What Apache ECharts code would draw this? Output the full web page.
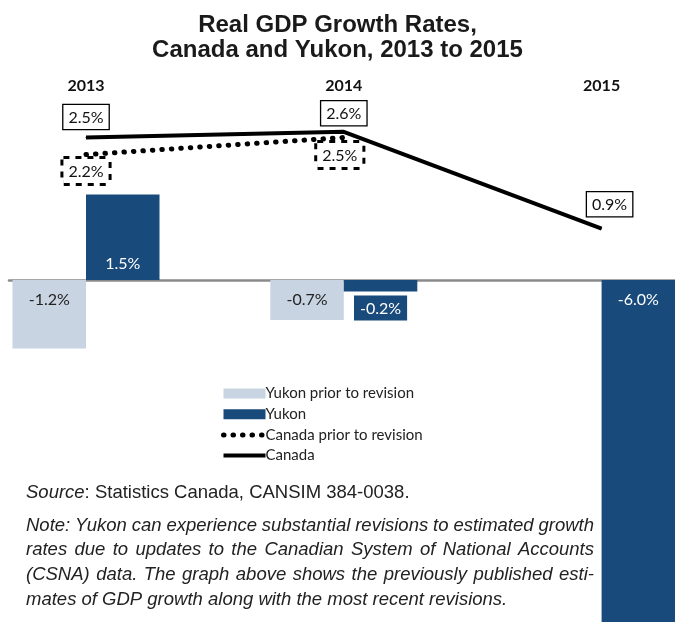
<!DOCTYPE html>
<html>
<head>
<meta charset="utf-8">
<script src="https://cdn.jsdelivr.net/npm/echarts@6/dist/echarts.min.js"></script>
<style>
html,body{margin:0;padding:0;background:#fff;}
#chart{width:675px;height:623px;}
</style>
</head>
<body>
<div id="chart"></div>
<script>
// ---- data ----
const years = ['2013', '2014', '2015'];
const yukonPrior = [-1.2, -0.7, null];
const yukon = [1.5, -0.2, -6.0];
const canadaPrior = [2.2, 2.5, null];
const canada = [2.5, 2.6, 0.9];
const seriesNames = ['Yukon prior to revision', 'Yukon', 'Canada prior to revision', 'Canada'];
const titleText = 'Real GDP Growth Rates,\nCanada and Yukon, 2013 to 2015';
const noteLines = [
  'Note: Yukon can experience substantial revisions to estimated growth',
  'rates due to updates to the Canadian System of National  Accounts',
  '(CSNA) data. The graph above shows the previously published esti-',
  'mates of GDP growth along with the most recent revisions.'
];

// ---- styles ----
const LIGHT = '#c8d4e2';
const DARK = '#184a7c';
const LABEL_FONT = 'Lato';
const TEXT_FONT = 'Liberation Sans';
const pct = p => (p.value == null ? '' : Number(p.value).toFixed(1) + '%');
const DOTTED = { color: '#000', width: 5, type: [0.5, 9], cap: 'round' };
const SOLID = { color: '#000', width: 4 };

const yukonLabelCfg = [
  { position: 'insideBottom', distance: 8, color: '#fff' },
  { position: 'bottom', distance: 4, color: '#fff', backgroundColor: DARK, padding: [5, 6, 4, 6] },
  { position: 'insideTop', distance: 12, color: '#fff' }
];
const canadaLabelCfg = [
  { distance: 8 },
  { distance: 6 },
  { distance: 12, offset: [8, 0] }
];
const canadaPriorLabelCfg = [
  { distance: 4 },
  { distance: 5, offset: [-4, 0] },
  {}
];

const withLabels = (vals, cfgs) => vals.map((v, i) => ({ value: v, label: cfgs[i] || {} }));

const chart = echarts.init(document.getElementById('chart'), null, { renderer: 'canvas' });

// justified note text as word-positioned graphic text
const ctx = document.createElement('canvas').getContext('2d');
const NOTE_SIZE = 18.5;
const noteFont = 'italic ' + NOTE_SIZE + 'px "' + TEXT_FONT + '"';
ctx.font = noteFont;
const noteLeft = 26, noteRight = 594, noteTop0 = 516, noteStep = 24.7;
const noteGraphics = [];
noteLines.forEach((line, li) => {
  const words = line.split(/\s+/);
  const y = noteTop0 + li * noteStep;
  if (li === noteLines.length - 1) {
    noteGraphics.push({ type: 'text', x: noteLeft, y: y, style: { text: line, font: noteFont, fill: '#222' } });
    return;
  }
  const widths = words.map(w => ctx.measureText(w).width);
  const total = widths.reduce((a, b) => a + b, 0);
  const gap = (noteRight - noteLeft - total) / (words.length - 1);
  let x = noteLeft;
  words.forEach((w, wi) => {
    noteGraphics.push({ type: 'text', x: x, y: y, style: { text: w, font: noteFont, fill: '#222' } });
    x += widths[wi] + gap;
  });
});

const option = {
  animation: false,
  backgroundColor: '#fff',
  title: {
    text: titleText,
    left: 'center',
    top: 8,
    textStyle: { fontFamily: TEXT_FONT, fontWeight: 'bold', fontSize: 24, lineHeight: 25, color: '#1a1a1a' }
  },
  legend: {
    orient: 'vertical',
    left: 216,
    top: 381,
    itemWidth: 42,
    itemHeight: 10,
    itemGap: 5.7,
    data: [
      { name: seriesNames[0], icon: 'rect' },
      { name: seriesNames[1], icon: 'rect' },
      { name: seriesNames[2], itemStyle: { opacity: 0 }, lineStyle: DOTTED },
      { name: seriesNames[3], itemStyle: { opacity: 0 }, lineStyle: SOLID }
    ],
    textStyle: { fontFamily: LABEL_FONT, fontSize: 15, lineHeight: 15, color: '#222', padding: [0, 0, 0, -5] }
  },
  grid: [
    { left: -42.9, width: 773.4, top: 109, height: 513, outerBoundsMode: 'none', containLabel: false },
    { left: 9, right: 0, top: 109, height: 513, outerBoundsMode: 'none', containLabel: false }
  ],
  xAxis: [
    {
      type: 'category', gridIndex: 0, data: years, position: 'top',
      axisLine: { show: false }, axisTick: { show: false }, splitLine: { show: false },
      axisLabel: { margin: 15, fontFamily: LABEL_FONT, fontWeight: 'bold', fontSize: 16, color: '#111' }
    },
    {
      type: 'value', gridIndex: 1, min: 0, max: 1,
      axisLine: { show: true, onZero: true, lineStyle: { color: '#8a8a8a', width: 2.5 } },
      axisTick: { show: false }, axisLabel: { show: false }, splitLine: { show: false }
    }
  ],
  yAxis: [
    { type: 'value', gridIndex: 0, min: -6, max: 3, show: false },
    { type: 'value', gridIndex: 1, min: -6, max: 3, show: false }
  ],
  series: [
    {
      name: seriesNames[0], type: 'bar', xAxisIndex: 0, yAxisIndex: 0,
      data: yukonPrior, barWidth: 73.5, barGap: '0%',
      itemStyle: { color: LIGHT },
      label: { show: true, position: 'insideTop', distance: 12, formatter: pct, fontFamily: LABEL_FONT, fontSize: 16, color: '#222' },
      z: 1
    },
    {
      name: seriesNames[1], type: 'bar', xAxisIndex: 0, yAxisIndex: 0,
      data: withLabels(yukon, yukonLabelCfg), barWidth: 73.5, barGap: '0%',
      itemStyle: { color: DARK },
      label: { show: true, formatter: pct, fontFamily: LABEL_FONT, fontSize: 16, color: '#fff' },
      z: 1
    },
    {
      name: seriesNames[2], type: 'line', xAxisIndex: 0, yAxisIndex: 0,
      data: withLabels(canadaPrior, canadaPriorLabelCfg),
      symbol: 'circle', symbolSize: 1, showSymbol: true, connectNulls: false,
      lineStyle: DOTTED,
      itemStyle: { color: '#000' },
      label: {
        show: true, position: 'bottom', formatter: pct, fontFamily: LABEL_FONT, fontSize: 16, color: '#111',
        backgroundColor: '#fff', borderColor: '#000', borderWidth: 3, borderType: 'dotted', padding: [5, 5, 3, 5]
      },
      z: 3
    },
    {
      name: seriesNames[3], type: 'line', xAxisIndex: 0, yAxisIndex: 0,
      data: withLabels(canada, canadaLabelCfg),
      symbol: 'circle', symbolSize: 1, showSymbol: true,
      lineStyle: SOLID,
      itemStyle: { color: '#000' },
      label: {
        show: true, position: 'top', formatter: pct, fontFamily: LABEL_FONT, fontSize: 16, color: '#111',
        backgroundColor: '#fff', borderColor: '#000', borderWidth: 1.3, padding: [5, 5, 3, 5]
      },
      z: 4
    }
  ],
  graphic: [
    {
      type: 'text', x: 26, y: 483,
      style: {
        text: '{i|Source}: Statistics Canada, CANSIM 384-0038.',
        font: NOTE_SIZE + 'px "' + TEXT_FONT + '"', fill: '#222',
        rich: { i: { fontStyle: 'italic', fontFamily: TEXT_FONT, fontSize: NOTE_SIZE, fill: '#222' } }
      }
    }
  ].concat(noteGraphics)
};
chart.setOption(option);
</script>
</body>
</html>
